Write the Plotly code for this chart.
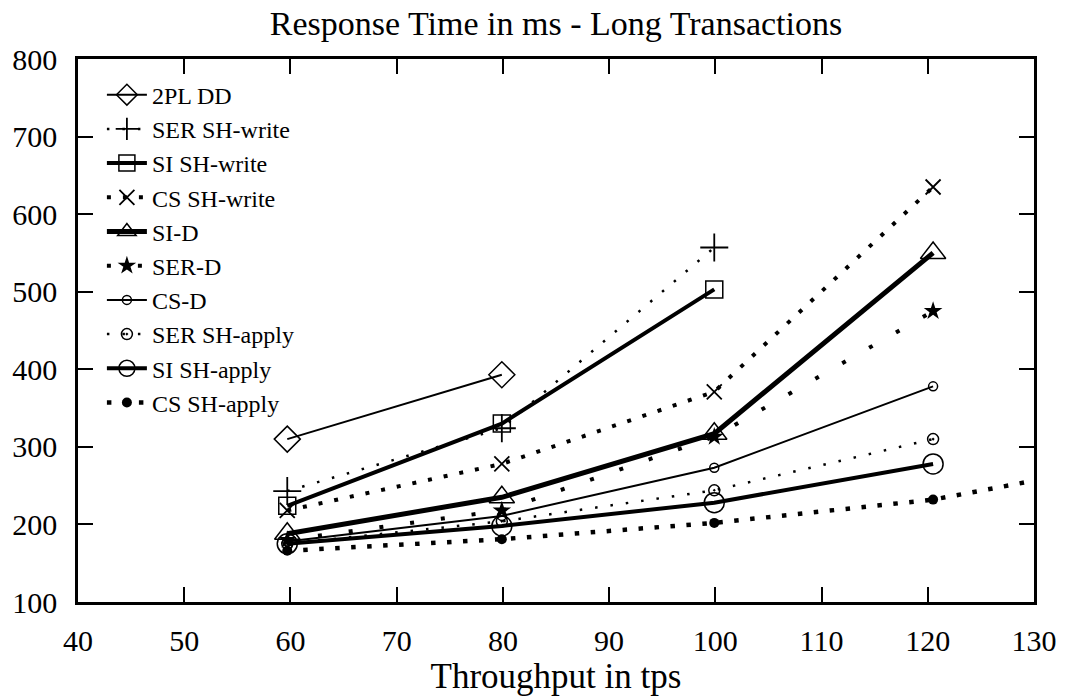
import plotly.graph_objects as go

# ---- data ----
x_tps = [59.7, 79.9, 99.9, 120.5]
x_cs_apply = [59.7, 79.9, 99.9, 120.5, 140.0]

pl2_dd = [310, 393]
ser_sh_write = [243, 324, 557]
si_sh_write = [224, 330, 503]
cs_sh_write = [218, 278, 371, 635]
si_d = [188, 235, 317, 550]
ser_d = [180, 218, 313, 475]
cs_d = [178, 211, 273, 378]
ser_sh_apply = [175, 204, 244, 310]
si_sh_apply = [175, 198, 228, 278]
cs_sh_apply = [166, 181, 202, 232, 282]

x_ticks = [40, 50, 60, 70, 80, 90, 100, 110, 120, 130]
y_ticks = [100, 200, 300, 400, 500, 600, 700, 800]

FONT = "Liberation Serif"
BLACK = "black"

series = [
    # name, x, y, line width, dash, marker symbol, marker size, marker line width
    ("2PL DD", x_tps[:2], pl2_dd, 2, "solid", "diamond-open", 20, 1.5),
    ("SER SH-write", x_tps[:3], ser_sh_write, 2.5, "2.5px,13px", "cross-thin-open", 20, 1.8),
    ("SI SH-write", x_tps[:3], si_sh_write, 4, "solid", "square-open", 17, 1.5),
    ("CS SH-write", x_tps, cs_sh_write, 4, "4px,12px", "x-thin-open", 15, 1.8),
    ("SI-D", x_tps, si_d, 5, "solid", "triangle-up-open", 22, 1.5),
    ("SER-D", x_tps, ser_d, 4, "4px,27px", "star", 14, 0),
    ("CS-D", x_tps, cs_d, 2, "solid", "circle-open", 9, 1.5),
    ("SER SH-apply", x_tps, ser_sh_apply, 2.5, "2.5px,13px", "circle-open-dot", 11, 1.5),
    ("SI SH-apply", x_tps, si_sh_apply, 4, "solid", "circle-open", 20, 1.5),
    ("CS SH-apply", x_cs_apply, cs_sh_apply, 4.5, "4.5px,11.5px", "circle", 10, 0),
]

fig = go.Figure()
for name, xs, ys, lw, dash, sym, msize, mlw in series:
    fig.add_trace(go.Scatter(
        x=xs, y=ys, name=name, mode="lines+markers",
        line=dict(color=BLACK, width=lw, dash=dash),
        marker=dict(symbol=sym, size=msize, color=BLACK,
                    line=dict(color=BLACK, width=mlw)),
    ))

axis_common = dict(
    showgrid=False, zeroline=False,
    showline=True, linecolor=BLACK, linewidth=2.5, mirror="ticks",
    ticks="inside", ticklen=15, tickwidth=2, tickcolor=BLACK,
    tickfont=dict(family=FONT, size=30, color=BLACK),
)

fig.update_layout(
    width=1069, height=696,
    margin=dict(l=76, r=30, t=59, b=87),
    paper_bgcolor="white", plot_bgcolor="white",
    title=dict(text="Response Time in ms - Long Transactions",
               x=0.5, xref="paper", xanchor="center",
               y=1 - 23 / 696, yanchor="middle",
               font=dict(family=FONT, size=34, color=BLACK)),
    xaxis=dict(range=[40, 130], tickvals=x_ticks,
               ticktext=[str(v) for v in x_ticks],
               title=dict(text="Throughput in tps", standoff=3,
                          font=dict(family=FONT, size=35, color=BLACK)),
               ticklabelstandoff=10,
               **axis_common),
    yaxis=dict(range=[100, 800], tickvals=y_ticks,
               ticktext=[str(v) for v in y_ticks],
               ticklabelstandoff=12,
               **axis_common),
    showlegend=True,
    legend=dict(x=0.025, y=0.975, xanchor="left", yanchor="top",
                bgcolor="rgba(0,0,0,0)", borderwidth=0,
                font=dict(family=FONT, size=24, color=BLACK),
                tracegroupgap=0, itemwidth=40),
)

fig.write_html("out.html")
